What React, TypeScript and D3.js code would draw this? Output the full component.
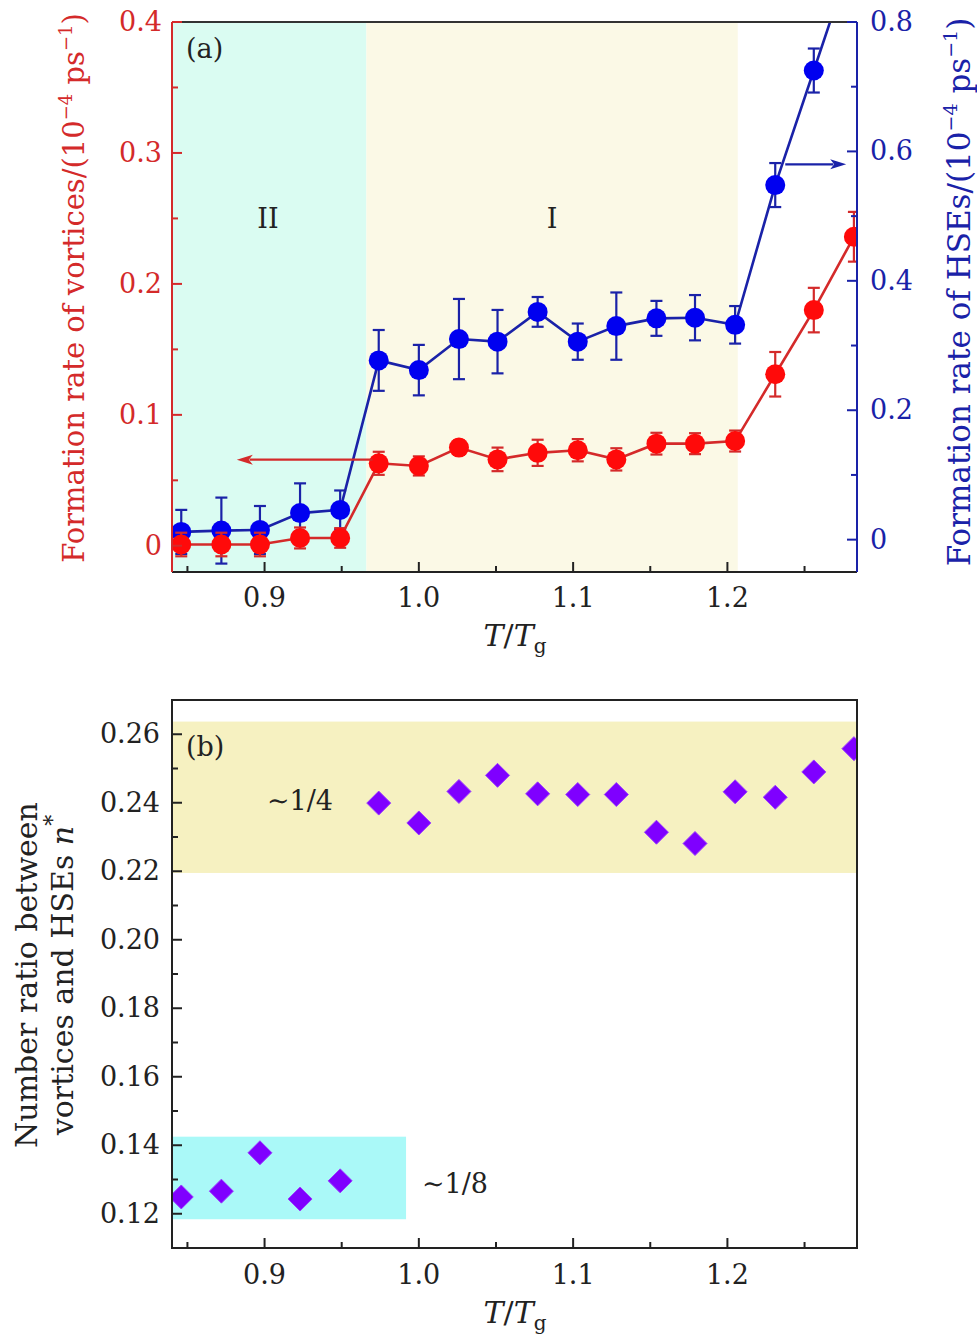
import React from 'react';
import * as d3 from 'd3';

// ---------- data ----------
const tRatio = [0.846, 0.872, 0.897, 0.923, 0.949, 0.974, 1.0, 1.026, 1.051, 1.077, 1.103, 1.128, 1.154, 1.179, 1.205, 1.231, 1.256, 1.282];
const vortexRate = [0.001, 0.001, 0.001, 0.006, 0.006, 0.063, 0.061, 0.075, 0.066, 0.071, 0.073, 0.066, 0.078, 0.078, 0.080, 0.131, 0.180, 0.236];
const vortexErr = [0.009, 0.009, 0.009, 0.008, 0.0075, 0.0088, 0.0073, 0.0055, 0.009, 0.010, 0.0085, 0.0085, 0.0083, 0.008, 0.008, 0.017, 0.017, 0.019];
const hseRate = [0.012, 0.014, 0.015, 0.041, 0.046, 0.277, 0.262, 0.310, 0.306, 0.352, 0.306, 0.330, 0.342, 0.343, 0.332, 0.548, 0.725, 0.910];
const hseErr = [0.034, 0.051, 0.037, 0.046, 0.030, 0.047, 0.039, 0.062, 0.049, 0.023, 0.028, 0.052, 0.027, 0.035, 0.029, 0.034, 0.034, 0.034];
const numberRatio = [0.1249, 0.1266, 0.1378, 0.1243, 0.1296, 0.2399, 0.2341, 0.2433, 0.2480, 0.2426, 0.2424, 0.2424, 0.2314, 0.2281, 0.2432, 0.2416, 0.2490, 0.2558];

const xMajor = [0.9, 1.0, 1.1, 1.2];
const xMinor = [0.85, 0.95, 1.05, 1.15, 1.25];
const leftMajor = [0, 0.1, 0.2, 0.3, 0.4];
const leftMinor = [0.05, 0.15, 0.25, 0.35];
const rightMajor = [0, 0.2, 0.4, 0.6, 0.8];
const rightMinor = [0.1, 0.3, 0.5, 0.7];
const bMajor = [0.12, 0.14, 0.16, 0.18, 0.2, 0.22, 0.24, 0.26];
const bMinor = [0.13, 0.15, 0.17, 0.19, 0.21, 0.23, 0.25];

// regions
const regionII = [0.84, 0.966];
const regionI = [0.966, 1.2067];
const bandQuarter = [0.2195, 0.2637];
const bandEighth = { x: [0.84, 0.9917], y: [0.1184, 0.1425] };

// ---------- layout ----------
const FONT = "'DejaVu Serif', 'Liberation Serif', serif";
const L = 172, R = 857;
const aTop = 22, aBot = 572;
const bTop = 700, bBot = 1248;

const RED = '#d42a2a';
const RED_M = '#ff0a0a';
const BLUE = '#1a22a8';
const BLUE_M = '#0000f0';
const PURPLE = '#7f00ff';

const x = d3.scaleLinear().domain([0.84, 1.284]).range([L, R]);
const yL = d3.scaleLinear().domain([-0.02, 0.4]).range([aBot, aTop]);
const yR = d3.scaleLinear().domain([-0.05, 0.8]).range([aBot, aTop]);
const yB = d3.scaleLinear().domain([0.11, 0.27]).range([bBot, bTop]);

const fmt1 = (v: number) => (v === 0 ? '0' : d3.format('.1f')(v));
const fmt2 = d3.format('.2f');

function ErrorSeries({ vals, errs, y, line, marker }: any) {
  const path = d3.line<number>().x((_, i) => x(tRatio[i])).y((d) => y(d))(vals) || '';
  return (
    <g>
      <path d={path} fill="none" stroke={line} strokeWidth={2.6} />
      {vals.map((v: number, i: number) => {
        const cx = x(tRatio[i]);
        const y1 = y(v + errs[i]);
        const y2 = y(v - errs[i]);
        return (
          <g key={i}>
            <line x1={cx} x2={cx} y1={y1} y2={y2} stroke={line} strokeWidth={2.2} />
            <line x1={cx - 6} x2={cx + 6} y1={y1} y2={y1} stroke={line} strokeWidth={2.2} />
            <line x1={cx - 6} x2={cx + 6} y1={y2} y2={y2} stroke={line} strokeWidth={2.2} />
          </g>
        );
      })}
      {vals.map((v: number, i: number) => (
        <circle key={'c' + i} cx={x(tRatio[i])} cy={y(v)} r={10} fill={marker} />
      ))}
    </g>
  );
}

function XAxis({ yBase, labelY, titleY }: any) {
  return (
    <g>
      {xMajor.map((t) => (
        <line key={t} x1={x(t)} x2={x(t)} y1={yBase} y2={yBase - 10} stroke="#222" strokeWidth={2} />
      ))}
      {xMinor.map((t) => (
        <line key={t} x1={x(t)} x2={x(t)} y1={yBase} y2={yBase - 6} stroke="#222" strokeWidth={2} />
      ))}
      {xMajor.map((t) => (
        <text key={'l' + t} x={x(t)} y={labelY} textAnchor="middle" fontSize={27} fill="#222">{d3.format('.1f')(t)}</text>
      ))}
      <text x={515} y={titleY} textAnchor="middle" fontSize={30} fill="#222">
        <tspan fontStyle="italic">T</tspan>/<tspan fontStyle="italic">T</tspan>
        <tspan fontSize={20} dy={7}>g</tspan>
      </text>
    </g>
  );
}

function Arrow({ x1, x2, yy, color }: any) {
  const dir = Math.sign(x2 - x1);
  const hl = 16;
  return (
    <g>
      <line x1={x1} x2={x2 - dir * hl * 0.8} y1={yy} y2={yy} stroke={color} strokeWidth={2.4} />
      <path d={`M${x2},${yy} L${x2 - dir * hl},${yy - 5} L${x2 - dir * hl * 0.75},${yy} L${x2 - dir * hl},${yy + 5} Z`} fill={color} />
    </g>
  );
}

export default function App() {
  return (
    <svg width={977} height={1342} style={{ position: 'absolute', left: 0, top: 0, background: '#fff' }} fontFamily={FONT}>
      <defs>
        <clipPath id="clipA"><rect x={L} y={aTop} width={R - L} height={aBot - aTop} /></clipPath>
        <clipPath id="clipB"><rect x={L} y={bTop} width={R - L} height={bBot - bTop} /></clipPath>
      </defs>

      {/* ================= Panel (a) ================= */}
      <rect x={x(regionII[0])} y={aTop} width={x(regionII[1]) - x(regionII[0])} height={aBot - aTop} fill="#dafcf2" />
      <rect x={x(regionI[0])} y={aTop} width={x(regionI[1]) - x(regionI[0])} height={aBot - aTop} fill="#fbf9e6" />

      <g clipPath="url(#clipA)">
        <ErrorSeries vals={hseRate} errs={hseErr} y={yR} line={BLUE} marker={BLUE_M} />
        <ErrorSeries vals={vortexRate} errs={vortexErr} y={yL} line={RED} marker={RED_M} />
        <Arrow x1={x(0.970)} x2={x(0.882)} yy={yL(0.0658)} color={RED} />
        <Arrow x1={x(1.2375)} x2={x(1.277)} yy={yR(0.580)} color={BLUE} />
      </g>

      {/* frame */}
      <line x1={L} x2={R} y1={aTop} y2={aTop} stroke="#333" strokeWidth={2} />
      <line x1={L} x2={R} y1={aBot} y2={aBot} stroke="#222" strokeWidth={2} />
      <line x1={L} x2={L} y1={aTop} y2={aBot} stroke={RED} strokeWidth={2} />
      <line x1={R} x2={R} y1={aTop} y2={aBot} stroke={BLUE} strokeWidth={2} />

      {/* left ticks */}
      {leftMajor.map((t) => (
        <g key={'lm' + t}>
          <line x1={L} x2={L + 10} y1={yL(t)} y2={yL(t)} stroke={RED} strokeWidth={2} />
          <text x={162} y={yL(t) + 9} textAnchor="end" fontSize={27} fill={RED}>{fmt1(t)}</text>
        </g>
      ))}
      {leftMinor.map((t) => (
        <line key={'ln' + t} x1={L} x2={L + 6} y1={yL(t)} y2={yL(t)} stroke={RED} strokeWidth={2} />
      ))}
      {/* right ticks */}
      {rightMajor.map((t) => (
        <g key={'rm' + t}>
          <line x1={R} x2={R - 10} y1={yR(t)} y2={yR(t)} stroke={BLUE} strokeWidth={2} />
          <text x={870} y={yR(t) + 9} textAnchor="start" fontSize={27} fill={BLUE}>{fmt1(t)}</text>
        </g>
      ))}
      {rightMinor.map((t) => (
        <line key={'rn' + t} x1={R} x2={R - 6} y1={yR(t)} y2={yR(t)} stroke={BLUE} strokeWidth={2} />
      ))}

      <XAxis yBase={aBot} labelY={607} titleY={646} />

      <text x={186} y={58} fontSize={27} fill="#222">(a)</text>
      <text x={268} y={228} textAnchor="middle" fontSize={27} fill="#222">II</text>
      <text x={552} y={228} textAnchor="middle" fontSize={27} fill="#222">I</text>

      {/* left title */}
      <text transform="translate(84,288) rotate(-90)" textAnchor="middle" fontSize={29} fill={RED}>
        Formation rate of vortices/(10<tspan fontSize={18} dy={-12}>−4</tspan>
        <tspan dy={12}> ps</tspan><tspan fontSize={18} dy={-12}>−1</tspan><tspan dy={12}>)</tspan>
      </text>
      {/* right title */}
      <text transform="translate(970,292) rotate(-90)" textAnchor="middle" fontSize={31} fill={BLUE}>
        Formation rate of HSEs/(10<tspan fontSize={19} dy={-13}>−4</tspan>
        <tspan dy={13}> ps</tspan><tspan fontSize={19} dy={-13}>−1</tspan><tspan dy={13}>)</tspan>
      </text>

      {/* ================= Panel (b) ================= */}
      <rect x={L} y={yB(bandQuarter[1])} width={R - L} height={yB(bandQuarter[0]) - yB(bandQuarter[1])} fill="#f6f1c1" />
      <rect x={x(bandEighth.x[0])} y={yB(bandEighth.y[1])} width={x(bandEighth.x[1]) - x(bandEighth.x[0])} height={yB(bandEighth.y[0]) - yB(bandEighth.y[1])} fill="#aaf9f8" />

      <g clipPath="url(#clipB)">
        {numberRatio.map((v, i) => {
          const cx = x(tRatio[i]);
          const cy = yB(v);
          const s = 12;
          return <path key={i} d={`M${cx},${cy - s} L${cx + s},${cy} L${cx},${cy + s} L${cx - s},${cy} Z`} fill={PURPLE} stroke="#9a3cff" strokeWidth={1} strokeLinejoin="round" />;
        })}
      </g>

      <rect x={L} y={bTop} width={R - L} height={bBot - bTop} fill="none" stroke="#222" strokeWidth={2} />

      {bMajor.map((t) => (
        <g key={'bm' + t}>
          <line x1={L} x2={L + 10} y1={yB(t)} y2={yB(t)} stroke="#222" strokeWidth={2} />
          <text x={160} y={yB(t) + 9} textAnchor="end" fontSize={27} fill="#222">{fmt2(t)}</text>
        </g>
      ))}
      {bMinor.map((t) => (
        <line key={'bn' + t} x1={L} x2={L + 6} y1={yB(t)} y2={yB(t)} stroke="#222" strokeWidth={2} />
      ))}

      <XAxis yBase={bBot} labelY={1284} titleY={1323} />

      <text x={186} y={756} fontSize={27} fill="#222">(b)</text>
      <text x={300} y={810} textAnchor="middle" fontSize={27} fill="#222">∼1/4</text>
      <text x={455} y={1193} textAnchor="middle" fontSize={27} fill="#222">∼1/8</text>

      <text transform="translate(37,975) rotate(-90)" textAnchor="middle" fontSize={30} fill="#222">Number ratio between</text>
      <text transform="translate(73,975) rotate(-90)" textAnchor="middle" fontSize={30} fill="#222">
        vortices and HSEs <tspan fontStyle="italic">n</tspan><tspan fontSize={22} dy={-13}>*</tspan>
      </text>
    </svg>
  );
}
